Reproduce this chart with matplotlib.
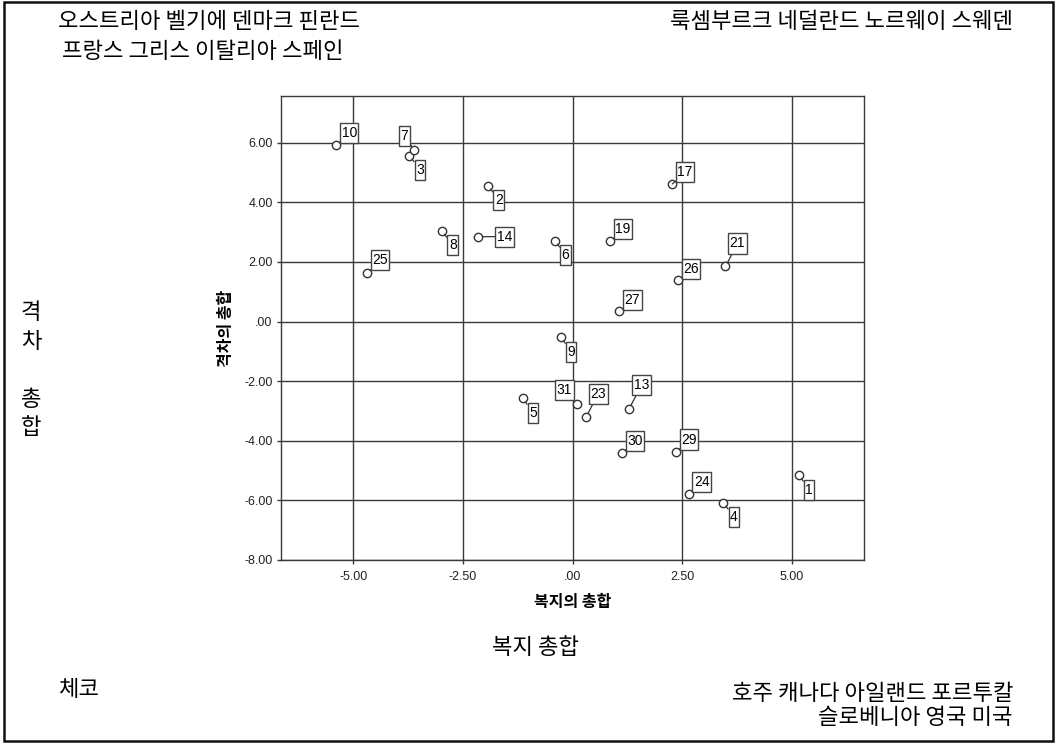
import matplotlib
matplotlib.use("Agg")
import matplotlib.pyplot as plt
from matplotlib.patches import Rectangle
from matplotlib.path import Path
from matplotlib.ticker import FuncFormatter

plt.rcParams['font.family'] = ['Noto Sans CJK KR', 'DejaVu Sans']

# case numbers and scores
cases = [1, 2, 3, 4, 5, 6, 7, 8, 9, 10, 13, 14, 17, 19, 21, 23, 24, 25, 26, 27, 29, 30, 31]
welfare = [5.17, -1.93, -3.72, 3.44, -1.13, -0.40, -3.61, -2.98, -0.26, -5.39, 1.29, -2.15,
           2.28, 0.85, 3.49, 0.31, 2.65, -4.69, 2.41, 1.07, 2.36, 1.13, 0.11]
gap = [-5.15, 4.56, 5.57, -6.08, -2.57, 2.71, 5.76, 3.04, -0.52, 5.92, -2.93, 2.85,
       4.62, 2.71, 1.85, -3.20, -5.78, 1.64, 1.39, 0.34, -4.36, -4.40, -2.77]

x_ticks = [-5.0, -2.5, 0.0, 2.5, 5.0]
y_ticks = [6.0, 4.0, 2.0, 0.0, -2.0, -4.0, -6.0, -8.0]

x_title = "복지의 총합"
y_title = "격차의 총합"

# where each case label box sits, in pixels from its point
label_offsets = {1: (10, -15), 2: (11, -14), 3: (10.5, -14), 4: (10.7, -14), 5: (10, -15),
                 6: (10.5, -14), 7: (-10, 14), 8: (11, -14), 9: (10, -15), 10: (13, 12),
                 13: (12.5, 23.7), 14: (26.4, 0), 17: (12.4, 12), 19: (13, 12), 21: (12, 23),
                 23: (12.2, 23.3), 24: (13, 12), 25: (13, 12.7), 26: (13, 11.3), 27: (13, 11.4),
                 29: (13, 12), 30: (13, 11.4), 31: (-13, 14.3)}

W, H = 1055, 744
fig = plt.figure(figsize=(W / 100, H / 100), dpi=100)
fig.patch.set_facecolor('white')

ax = fig.add_axes((281 / W, (H - 560) / H, (864 - 281) / W, (560 - 96) / H))
ax.set_xlim(-6.65, 6.65)
ax.set_ylim(-8.0, 7.57)

line_col = '#3a3a3a'
ax.set_xticks(x_ticks)
ax.set_yticks(y_ticks)
ax.grid(True, color=line_col, lw=1.0)
ax.set_axisbelow(True)
for s in ax.spines.values():
    s.set_color(line_col)
    s.set_linewidth(1.0)


def fmt(v, pos):
    t = "%.2f" % v
    if t.startswith("0."):
        t = t[1:]
    return t


ax.xaxis.set_major_formatter(FuncFormatter(fmt))
ax.yaxis.set_major_formatter(FuncFormatter(fmt))
ax.tick_params(axis='both', direction='out', length=3, width=1.0, color=line_col,
               labelsize=9, labelcolor='#222222')
ax.tick_params(axis='x', pad=5)
ax.tick_params(axis='y', pad=3)
for lab in ax.get_xticklabels() + ax.get_yticklabels():
    lab.set_family(['Liberation Sans', 'DejaVu Sans'])

ax.set_xlabel(x_title, fontsize=11.5, fontweight='bold', va='center')
ax.xaxis.set_label_coords(0.5, (560 - 602) / 464)
ax.set_ylabel(y_title, fontsize=11.5, fontweight='bold', va='center')
ax.yaxis.set_label_coords((226 - 281) / 583, 0.5)

ax.plot(welfare, gap, 'o', ms=6, mfc='white', mec='#333333', mew=1.0, zorder=3)


def tall_box(x0, y0, width, height, mutation_size):
    # narrow sides, more room above and below the number
    padx = 0.11 * mutation_size
    pady = 0.22 * mutation_size
    x0, y0 = x0 - padx, y0 - pady
    x1, y1 = x0 + width + 2 * padx, y0 + height + 2 * pady
    return Path([(x0, y0), (x1, y0), (x1, y1), (x0, y1), (x0, y0)], closed=True)


for c, xv, yv in zip(cases, welfare, gap):
    ax.annotate(str(c), (xv, yv), xytext=label_offsets[c], textcoords='offset pixels',
                ha='center', va='center', fontsize=10, family=['Liberation Sans', 'DejaVu Sans'],
                bbox=dict(boxstyle=tall_box, fc='white', ec='#444444', lw=1.0),
                arrowprops=dict(arrowstyle='-', color='#333333', lw=0.9, shrinkA=0, shrinkB=3),
                zorder=4)


def px(x, y):
    return x / W, 1 - y / H


# country groups written around the chart
fs = 16
fig.text(*px(58, 22), "오스트리아 벨기에 덴마크 핀란드", fontsize=fs, ha='left', va='center')
fig.text(*px(62, 52), "프랑스 그리스 이탈리아 스페인", fontsize=fs, ha='left', va='center')
fig.text(*px(1013, 22), "룩셈부르크 네덜란드 노르웨이 스웨덴", fontsize=fs, ha='right', va='center')
fig.text(*px(535, 648), "복지 총합", fontsize=fs, ha='center', va='center')
fig.text(*px(58, 690), "체코", fontsize=fs, ha='left', va='center')
fig.text(*px(1013, 693), "호주 캐나다 아일랜드 포르투칼", fontsize=fs, ha='right', va='center')
fig.text(*px(1013, 718), "슬로베니아 영국 미국", fontsize=fs, ha='right', va='center')
for ch, yy in zip("격차총합", [313, 342, 399, 427]):
    fig.text(*px(31, yy), ch, fontsize=fs, ha='center', va='center')

fig.patches.append(Rectangle((4 / W, (H - 741) / H), (1053 - 4) / W, (741 - 1.5) / H,
                             transform=fig.transFigure, fill=False, ec='#111111', lw=1.8))

fig.savefig("out.png", dpi=100)
